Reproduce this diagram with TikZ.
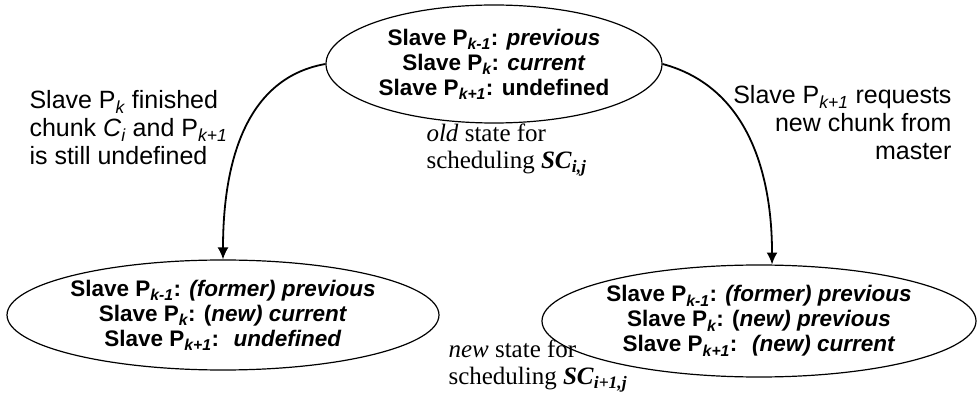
\documentclass[tikz,border=0pt]{standalone}
\usepackage{fontspec}
\setmainfont{Liberation Serif}
\setsansfont{Liberation Sans}
\usepackage{tikz}
\usetikzlibrary{arrows.meta}
\usetikzlibrary{shapes.geometric}

\newcommand{\sub}[1]{\textsubscript{\itshape #1}}

\begin{document}
\begin{tikzpicture}[x=10pt,y=10pt,
  state/.style={ellipse,draw,line width=1.2pt,inner sep=0pt,align=center,
    font=\sffamily\bfseries\fontsize{22.5}{25}\selectfont},
  trans/.style={line width=1.8pt,-{Latex[length=12pt,width=11pt]}},
  event/.style={font=\sffamily\fontsize{25}{28}\selectfont},
  note/.style={align=left,font=\rmfamily\fontsize{25}{27}\selectfont}]
\useasboundingbox (0,0) rectangle (97.8,39.4);
% the three states of the scheduler
\node[state,minimum width=336pt,minimum height=118pt] (old) at (49.4,33.0)
  {Slave P\sub{k-1}: \textit{previous}\\
   Slave P\sub{k}: \textit{current}\\
   Slave P\sub{k+1}: undefined};
\node[state,minimum width=430pt,minimum height=110pt] (finished) at (22.3,7.9)
  {Slave P\sub{k-1}: \textit{(former) previous}\\
   Slave P\sub{k}: (\textit{new) current}\\
   Slave P\sub{k+1}: \ \textit{undefined}};
\node[state,minimum width=434pt,minimum height=112pt] (requested) at (75.9,7.3)
  {Slave P\sub{k-1}: \textit{(former) previous}\\
   Slave P\sub{k}: (\textit{new) previous}\\
   Slave P\sub{k+1}: \ \textit{(new) current}};
% transitions
\draw[trans] (old.west) to[out=190,in=90] (finished.north);
\draw[trans] (old.east) to[out=-15,in=90] (requested.77);
% events
\node[event,anchor=west,align=left] (evleft) at (2.6,26.6)
  {Slave P\sub{k} finished\\ chunk \textit{C}\sub{i} and P\sub{k+1}\\ is still undefined};
\node[event,anchor=east,align=right] (evright) at (95.5,27.1)
  {Slave P\sub{k+1} requests\\ new chunk from\\ master};
% state captions
\node[note,anchor=west] (oldnote) at (42.3,24.4)
  {\textit{old} state for\\ scheduling \textbf{\textit{SC}}\textsubscript{\bfseries\itshape i,j}};
\node[note,anchor=west] (newnote) at (44.5,2.8)
  {\textit{new} state for\\ scheduling \textbf{\textit{SC}}\textsubscript{\bfseries\itshape i+1,j}};
\end{tikzpicture}
\end{document}
